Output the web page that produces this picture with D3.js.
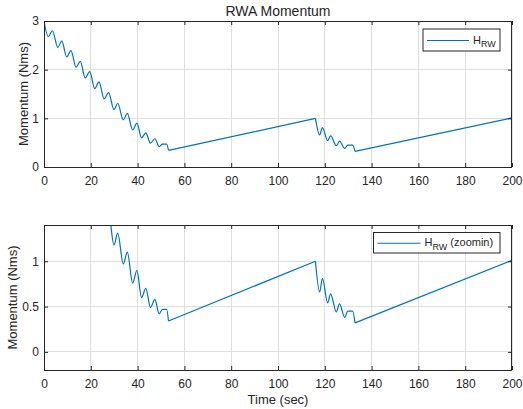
<!DOCTYPE html>
<html><head><meta charset="utf-8">
<script src="https://cdn.jsdelivr.net/npm/d3@7"></script>
<style>
body{margin:0;background:#fff}
text{font-family:"Liberation Sans",Arial,Helvetica,sans-serif;fill:#262626}
</style>
</head><body>
<svg id="c" width="523" height="409"></svg>
<script>
// ---- data ----
const timeSec = [0, 1.8, 3.6, 5.9, 7.6, 9.7, 11.5, 13.7, 15.5, 17.6, 19.5, 21.7, 23.5, 25.7, 27.6,
  29.9, 31.5, 33.9, 35.6, 37.9, 39.7, 41.7, 43.5, 45.5, 47.4, 49.2, 50.6, 52.4, 53.2,
  116.0, 117.8, 119.0, 121.2, 122.5, 124.9, 126.3, 128.5, 129.8, 131.9, 132.9, 200];
const momentumNms = [3.00, 2.68, 2.80, 2.46, 2.59, 2.26, 2.39, 2.05, 2.17, 1.83, 1.96, 1.61, 1.75, 1.40, 1.53,
  1.18, 1.31, 0.97, 1.10, 0.76, 0.90, 0.60, 0.70, 0.49, 0.58, 0.42, 0.47, 0.47, 0.34,
  1.00, 0.66, 0.81, 0.54, 0.64, 0.44, 0.53, 0.38, 0.45, 0.45, 0.32, 1.01];
// indices where the long linear coast ramps start/end
const rampStarts = [28, 39];
const xTicks = [0, 20, 40, 60, 80, 100, 120, 140, 160, 180, 200];
const topYTicks = [0, 1, 2, 3];
const bottomYTicks = [0, 0.5, 1];
const titleText = "RWA Momentum";
const yLabel = "Momentum (Nms)";
const xLabel = "Time (sec)";

const pts = timeSec.map((t, i) => ({t, v: momentumNms[i]}));

const svg = d3.select("#c");
const blue = "#0072BD", axisCol = "#262626", gridCol = "#dfdfdf";
const left = 44, right = 512;
const x = d3.scaleLinear().domain([0, 200]).range([left, right]);

const panels = [
  {top: 21, bottom: 167, domain: [0, 3], ticks: topYTicks, fmt: d3.format("d"),
   legend: {x0: 423, y0: 29, w: 77, h: 22, extra: "", lineLen: 42}, ylabX: 28, id: "p1"},
  {top: 225, bottom: 370, domain: [-0.2, 1.4], ticks: bottomYTicks, fmt: d => d === 0.5 ? "0.5" : d3.format("d")(d),
   legend: {x0: 373.5, y0: 232.5, w: 126.5, h: 20.5, extra: " (zoomin)", lineLen: 43}, ylabX: 17, id: "p2"}
];

panels.forEach(p => {
  const y = d3.scaleLinear().domain(p.domain).range([p.bottom, p.top]);
  const g = svg.append("g");
  // grid
  g.append("g").selectAll("line").data(xTicks).join("line")
    .attr("x1", d => x(d)).attr("x2", d => x(d)).attr("y1", p.top).attr("y2", p.bottom)
    .attr("stroke", gridCol).attr("stroke-width", 1).attr("shape-rendering", "crispEdges");
  g.append("g").selectAll("line").data(p.ticks).join("line")
    .attr("x1", left).attr("x2", right).attr("y1", d => y(d)).attr("y2", d => y(d))
    .attr("stroke", gridCol).attr("stroke-width", 1).attr("shape-rendering", "crispEdges");

  // clip
  svg.append("clipPath").attr("id", "clip" + p.id).append("rect")
    .attr("x", left).attr("y", p.top).attr("width", right - left).attr("height", p.bottom - p.top);

  const lg = g.append("g").attr("clip-path", `url(#clip${p.id})`);
  const curveLine = d3.line().x(d => x(d.t)).y(d => y(d.v)).curve(d3.curveMonotoneX);
  const straight = d3.line().x(d => x(d.t)).y(d => y(d.v));
  // burst segments (curved) and coast ramps (straight)
  const segs = [];
  let s = 0;
  rampStarts.forEach(r => {
    segs.push({pts: pts.slice(s, r + 1), curved: true});
    segs.push({pts: pts.slice(r, r + 2), curved: false});
    s = r + 1;
  });
  if (s < pts.length - 1) segs.push({pts: pts.slice(s), curved: true});
  segs.forEach(sg => {
    lg.append("path").attr("d", (sg.curved ? curveLine : straight)(sg.pts))
      .attr("fill", "none").attr("stroke", blue).attr("stroke-width", 1.2)
      .attr("stroke-linejoin", "round");
  });

  // axes (ticks inside)
  const ax = g.append("g").attr("transform", `translate(0,${p.bottom})`)
    .call(d3.axisBottom(x).tickValues(xTicks).tickSizeInner(-4).tickSizeOuter(0).tickPadding(9.5));
  const ay = g.append("g").attr("transform", `translate(${left},0)`)
    .call(d3.axisLeft(y).tickValues(p.ticks).tickFormat(p.fmt).tickSizeInner(-4).tickSizeOuter(0).tickPadding(5));
  const axT = g.append("g").attr("transform", `translate(0,${p.top})`)
    .call(d3.axisTop(x).tickValues(xTicks).tickSizeInner(-4).tickSizeOuter(0).tickFormat(""));
  const ayR = g.append("g").attr("transform", `translate(${right},0)`)
    .call(d3.axisRight(y).tickValues(p.ticks).tickSizeInner(-4).tickSizeOuter(0).tickFormat(""));
  [ax, ay, axT, ayR].forEach(a => {
    a.select(".domain").remove();
    a.selectAll("line").attr("stroke", axisCol);
    a.selectAll("text").attr("font-size", 12).attr("fill", axisCol)
      .style("font-family", '"Liberation Sans",Arial,sans-serif');
  });
  g.append("rect").attr("x", left + 0.5).attr("y", p.top + 0.5)
    .attr("width", right - left - 1).attr("height", p.bottom - p.top)
    .attr("fill", "none").attr("stroke", axisCol).attr("stroke-width", 1);

  // y label
  g.append("text").attr("transform", `translate(${p.ylabX},${(p.top + p.bottom) / 2}) rotate(-90)`)
    .attr("text-anchor", "middle").attr("font-size", 13).text(yLabel);

  // legend
  const L = p.legend;
  const leg = g.append("g");
  leg.append("rect").attr("x", L.x0).attr("y", L.y0).attr("width", L.w).attr("height", L.h)
    .attr("fill", "#fff").attr("stroke", axisCol).attr("stroke-width", 1);
  const ly = L.y0 + L.h / 2 + 0.5;
  leg.append("line").attr("x1", L.x0 + 4).attr("x2", L.x0 + 4 + L.lineLen)
    .attr("y1", ly).attr("y2", ly).attr("stroke", blue).attr("stroke-width", 1.2);
  const lt = leg.append("text").attr("x", L.x0 + 4 + L.lineLen + 4).attr("y", ly + 3).attr("font-size", 11);
  lt.append("tspan").text("H");
  lt.append("tspan").attr("dy", 3.5).attr("font-size", 9).text("RW");
  if (L.extra) lt.append("tspan").attr("dy", -3.5).attr("font-size", 11).text(L.extra);
});

// title and x label
svg.append("text").attr("x", 278).attr("y", 16).attr("text-anchor", "middle")
  .attr("font-size", 14).text(titleText);
svg.append("text").attr("x", 278).attr("y", 404).attr("text-anchor", "middle")
  .attr("font-size", 13).text(xLabel);
</script>
</body></html>
